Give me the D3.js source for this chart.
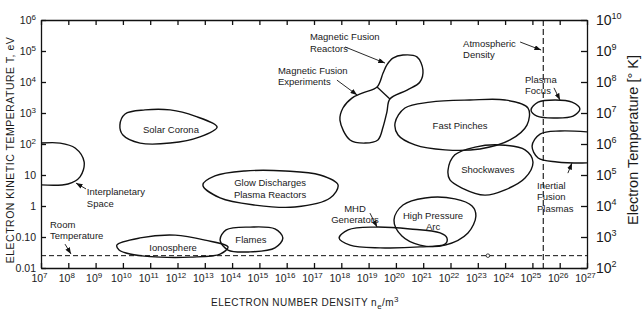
<!DOCTYPE html>
<html>
<head>
<meta charset="utf-8">
<script src="https://cdn.jsdelivr.net/npm/d3@7"></script>
<style>
body { margin: 0; background: #fff; }
text { font-family: "Liberation Sans", Arial, sans-serif; fill: #1a1a1a; }
</style>
</head>
<body>
<script>
// tick values (exponents) and labels
var densityExp = [7,8,9,10,11,12,13,14,15,16,17,18,19,20,21,22,23,24,25,26,27];
var tempExp = [6,5,4,3,2,1,0,-1,-2];
var tempLabels = ["10^6","10^5","10^4","10^3","10^2","10","1","0.10","0.01"];
var kelvinExp = [10,9,8,7,6,5,4,3,2];

var roomTemp = 0.025;     // eV
var atmDensity = 2.5e25;  // m^-3

// region outlines as [log10 n_e, log10 T(eV)]
var solarCorona = [[9.89,2.61],[10.08,2.97],[10.81,3.10],[11.73,3.10],[12.64,2.90],[13.45,2.55],[12.82,2.23],[11.73,2.03],[10.63,2.03],[10.00,2.29]];
var interplanetary = [[7.0,2.03],[7.70,2.03],[8.25,1.87],[8.58,1.42],[8.43,0.94],[7.99,0.71],[7.0,0.68]];
var ionosphere = [[9.78,-1.26],[10.63,-1.03],[11.91,-0.94],[13.01,-1.10],[13.85,-1.32],[13.56,-1.55],[12.46,-1.65],[11.36,-1.65],[10.26,-1.55],[9.86,-1.42]];
var flames = [[13.56,-1.10],[13.78,-0.77],[14.66,-0.68],[15.57,-0.74],[15.86,-1.03],[15.57,-1.35],[14.66,-1.48],[13.85,-1.42]];
var glowDischarges = [[12.93,0.68],[13.37,0.97],[14.47,1.13],[15.94,1.13],[17.22,1.00],[17.88,0.68],[17.59,0.26],[16.30,-0.03],[14.84,0.03],[13.56,0.26]];
var mhd = [[17.92,-1.03],[18.25,-0.77],[19.23,-0.68],[20.52,-0.74],[21.62,-0.87],[21.87,-1.03],[21.80,-1.23],[20.88,-1.32],[19.42,-1.35],[18.32,-1.26]];
var highPressureArc = [[19.93,-0.45],[20.26,0.03],[21.07,0.26],[22.16,0.23],[22.79,0.00],[22.93,-0.32],[22.64,-0.87],[21.80,-1.26],[20.88,-1.26],[20.22,-0.97]];
var magneticFusion = [[19.31,3.84],[19.53,4.29],[19.67,4.55],[19.89,4.77],[20.26,4.87],[20.77,4.81],[20.99,4.39],[20.88,4.00],[20.41,3.74],[19.78,3.45],[19.67,3.03],[19.53,2.55],[19.34,2.13],[18.87,2.03],[18.32,2.13],[17.95,2.77],[18.06,3.16],[18.39,3.48],[18.79,3.65]];
var mfDivider = [[19.31,3.84],[19.78,3.45]];
var fastPinches = [[19.97,2.68],[20.33,3.16],[21.25,3.35],[22.71,3.42],[24.00,3.42],[24.84,3.16],[24.80,2.61],[24.18,2.13],[23.08,1.84],[21.80,1.81],[20.70,1.97],[20.08,2.29]];
var shockwaves = [[21.91,1.16],[22.16,1.65],[22.90,1.90],[23.81,1.97],[24.73,1.81],[25.02,1.42],[24.73,0.90],[24.00,0.52],[23.26,0.35],[22.42,0.58],[21.98,0.84]];
var plasmaFocus = [[24.95,3.10],[25.21,3.35],[25.83,3.42],[26.45,3.35],[26.74,3.13],[26.49,2.90],[25.83,2.84],[25.17,2.90]];
var inertialFusion = [[27.0,2.39],[26.01,2.42],[25.28,2.32],[24.99,1.94],[25.21,1.55],[25.90,1.42],[27.0,1.39]];

var closedRegions = [solarCorona, ionosphere, flames, glowDischarges, mhd, highPressureArc, magneticFusion, fastPinches, shockwaves, plasmaFocus];
var openRegions = [interplanetary, inertialFusion];

// annotations: lines of text, anchor point [log n, log T], text-anchor
var labelText = [["Solar Corona"],["Interplanetary","Space"],["Room","Temperature"],["Ionosphere"],["Flames"],
  ["Glow Discharges","Plasma Reactors"],["MHD","Generators"],["High Pressure","Arc"],["Magnetic Fusion","Reactors"],
  ["Magnetic Fusion","Experiments"],["Fast Pinches"],["Shockwaves"],["Atmospheric","Density"],["Plasma","Focus"],
  ["Inertial","Fusion","Plasmas"]];
var labelPos = [[11.76,2.48],[8.68,0.48],[7.33,-0.58],[11.84,-1.32],[14.69,-1.06],[15.39,0.77],[18.50,-0.06],[21.36,-0.29],
  [16.85,5.48],[15.68,4.39],[22.35,2.61],[23.37,1.19],[22.46,5.26],[24.73,4.10],[25.17,0.68]];
var labelAnchor = ["middle","start","start","middle","middle","middle","middle","middle","start","start","middle","middle","start","start","start"];

// arrows: [tail, head]
var arrows = [
  [[8.65,0.55],[8.28,0.74]],
  [[7.88,-1.23],[8.10,-1.55]],
  [[19.05,-0.23],[19.31,-0.68]],
  [[18.14,5.13],[19.60,4.61]],
  [[17.84,4.06],[18.58,3.58]],
  [[24.55,5.29],[25.32,5.03]],
  [[25.79,3.81],[26.01,3.42]],
  [[26.30,1.06],[26.45,1.39]]
];
var roomMarker = [23.37, Math.log10(roomTemp)];

var width = 642, height = 320;
var plot = {left: 41, right: 587, top: 20, bottom: 268};

var x = d3.scaleLog().domain([1e7, 1e27]).range([plot.left, plot.right]);
var y = d3.scaleLog().domain([1e-2, 1e6]).range([plot.bottom, plot.top]);
var yK = d3.scaleLog().domain([1e2, 1e10]).range([plot.bottom, plot.top]);

function px(p) { return x(Math.pow(10, p[0])); }
function py(p) { return y(Math.pow(10, p[1])); }

var svg = d3.select("body").append("svg").attr("width", width).attr("height", height);

var defs = svg.append("defs");
defs.append("marker").attr("id", "arr")
  .attr("markerUnits", "userSpaceOnUse")
  .attr("viewBox", "0 0 8 6").attr("refX", 8).attr("refY", 3)
  .attr("markerWidth", 7).attr("markerHeight", 5).attr("orient", "auto")
  .append("path").attr("d", "M0,0L8,3L0,6Z").attr("fill", "#111");
defs.append("clipPath").attr("id", "plotclip").append("rect")
  .attr("x", plot.left).attr("y", plot.top)
  .attr("width", plot.right - plot.left).attr("height", plot.bottom - plot.top);

// axes
function styleAxis(g) {
  g.selectAll("path,line").attr("stroke", "#111").attr("stroke-width", 1.3);
}

var bottomAxis = svg.append("g").attr("transform", "translate(0," + plot.bottom + ")")
  .call(d3.axisBottom(x).tickValues(densityExp.map(function(e) { return Math.pow(10, e); }))
    .tickSize(-5).tickSizeOuter(0).tickPadding(7).tickFormat(function() { return "10"; }))
  .call(styleAxis);
bottomAxis.selectAll("text").attr("font-size", 10.5).attr("fill", "#1a1a1a")
  .attr("font-family", "Liberation Sans, Arial, sans-serif").attr("dx", "-2")
  .append("tspan").attr("dy", "-4").attr("font-size", 8)
  .text(function(d) { return Math.round(Math.log10(d)); });

svg.append("g").attr("transform", "translate(0," + plot.top + ")")
  .call(d3.axisTop(x).tickValues(densityExp.map(function(e) { return Math.pow(10, e); }))
    .tickSize(-5).tickSizeOuter(0).tickFormat(""))
  .call(styleAxis);

var leftAxis = svg.append("g").attr("transform", "translate(" + plot.left + ",0)")
  .call(d3.axisLeft(y).tickValues(tempExp.map(function(e) { return Math.pow(10, e); }))
    .tickSize(-5).tickSizeOuter(0).tickPadding(5).tickFormat(""))
  .call(styleAxis);
leftAxis.selectAll("text").each(function(d, i) {
  var parts = tempLabels[i].split("^");
  var t = d3.select(this).attr("font-size", 10.5).attr("fill", "#1a1a1a")
    .attr("font-family", "Liberation Sans, Arial, sans-serif");
  t.append("tspan").text(parts[0]);
  if (parts[1]) t.append("tspan").attr("dy", "-4").attr("font-size", 8).text(parts[1]);
});

var rightAxis = svg.append("g").attr("transform", "translate(" + plot.right + ",0)")
  .call(d3.axisRight(yK).tickValues(kelvinExp.map(function(e) { return Math.pow(10, e); }))
    .tickSize(-6).tickSizeOuter(0).tickPadding(9).tickFormat(function() { return "10"; }))
  .call(styleAxis);
rightAxis.selectAll("text").attr("font-size", 14).attr("fill", "#1a1a1a")
  .attr("font-family", "Liberation Serif, Times New Roman, serif")
  .append("tspan").attr("dy", "-6").attr("font-size", 9)
  .text(function(d) { return Math.round(Math.log10(d)); });

// axis titles
svg.append("text").attr("transform", "translate(10,150) rotate(-90)")
  .attr("text-anchor", "middle").attr("dominant-baseline", "central")
  .attr("font-size", 10.5).attr("letter-spacing", 0.5)
  .text("ELECTRON KINETIC TEMPERATURE  T, eV");

var xt = svg.append("text").attr("x", 305).attr("y", 306).attr("text-anchor", "middle")
  .attr("font-size", 10).attr("letter-spacing", 0.45);
xt.append("tspan").text("ELECTRON NUMBER DENSITY n");
xt.append("tspan").attr("dy", 3).attr("font-size", 8).text("e");
xt.append("tspan").attr("dy", -3).text("/m");
xt.append("tspan").attr("dy", -4).attr("font-size", 8).text("3");

svg.append("text").attr("transform", "translate(633,140) rotate(-90)")
  .attr("text-anchor", "middle").attr("dominant-baseline", "central")
  .attr("font-family", "Liberation Serif, Times New Roman, serif").attr("font-size", 14.5)
  .text("Electron Temperature [\u00B0 K]");

// reference lines
svg.append("line")
  .attr("x1", plot.left).attr("x2", plot.right)
  .attr("y1", y(roomTemp)).attr("y2", y(roomTemp))
  .attr("stroke", "#111").attr("stroke-width", 1).attr("stroke-dasharray", "5,3");
svg.append("line")
  .attr("x1", x(atmDensity)).attr("x2", x(atmDensity))
  .attr("y1", plot.top).attr("y2", plot.bottom)
  .attr("stroke", "#111").attr("stroke-width", 1.1).attr("stroke-dasharray", "6,3");
svg.append("circle").attr("cx", px(roomMarker)).attr("cy", py(roomMarker)).attr("r", 1.8)
  .attr("fill", "#fff").attr("stroke", "#111").attr("stroke-width", 0.8);

// regions
var regionsG = svg.append("g").attr("clip-path", "url(#plotclip)");
var closedLine = d3.line().x(px).y(py).curve(d3.curveCatmullRomClosed.alpha(0.5));
var openLine = d3.line().x(px).y(py).curve(d3.curveCatmullRom.alpha(0.5));

regionsG.selectAll("path.closed").data(closedRegions).enter().append("path")
  .attr("class", "closed").attr("d", closedLine)
  .attr("fill", "none").attr("stroke", "#111").attr("stroke-width", 1.4);
regionsG.selectAll("path.open").data(openRegions).enter().append("path")
  .attr("class", "open").attr("d", openLine)
  .attr("fill", "none").attr("stroke", "#111").attr("stroke-width", 1.4);
regionsG.append("path").datum(mfDivider).attr("d", d3.line().x(px).y(py))
  .attr("fill", "none").attr("stroke", "#111").attr("stroke-width", 1.3);

// arrows
svg.append("g").selectAll("line").data(arrows).enter().append("line")
  .attr("x1", function(d) { return px(d[0]); }).attr("y1", function(d) { return py(d[0]); })
  .attr("x2", function(d) { return px(d[1]); }).attr("y2", function(d) { return py(d[1]); })
  .attr("stroke", "#111").attr("stroke-width", 0.9).attr("marker-end", "url(#arr)");

// labels
var lineH = 11.5;
svg.append("g").selectAll("text").data(labelText).enter().append("text")
  .attr("font-size", 9.5)
  .attr("text-anchor", function(d, i) { return labelAnchor[i]; })
  .attr("dominant-baseline", "central")
  .each(function(lines, i) {
    var t = d3.select(this);
    lines.forEach(function(s, k) {
      t.append("tspan").attr("x", px(labelPos[i])).attr("y", py(labelPos[i]) + k * lineH).text(s);
    });
  });
</script>
</body>
</html>
